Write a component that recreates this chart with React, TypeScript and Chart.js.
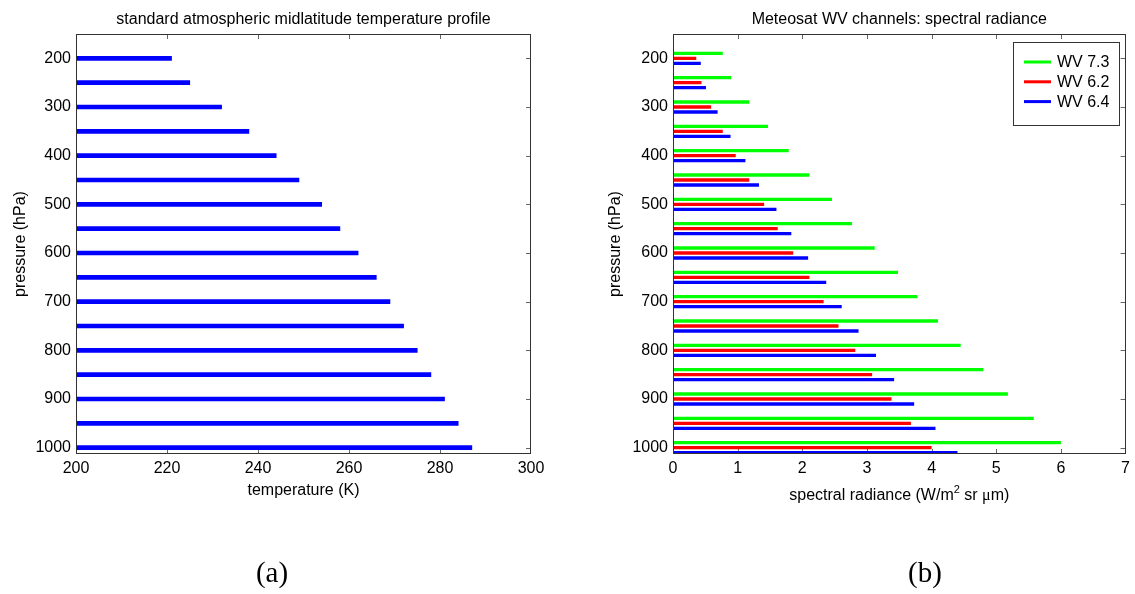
import React, { useEffect, useRef } from 'react';
import { Chart, registerables } from 'chart.js';

Chart.register(...registerables);

// ---------------- data ----------------
const pressureLevels = [200, 250, 300, 350, 400, 450, 500, 550, 600, 650, 700, 750, 800, 850, 900, 950, 1000];
const temperatureK = [221, 225, 232, 238, 244, 249, 254, 258, 262, 266, 269, 272, 275, 278, 281, 284, 287];
const radianceWV73 = [0.77, 0.9, 1.18, 1.47, 1.79, 2.11, 2.46, 2.77, 3.12, 3.48, 3.78, 4.1, 4.45, 4.8, 5.18, 5.58, 6.0];
const radianceWV62 = [0.36, 0.44, 0.59, 0.77, 0.97, 1.18, 1.41, 1.62, 1.86, 2.11, 2.33, 2.56, 2.82, 3.08, 3.38, 3.68, 4.0];
const radianceWV64 = [0.43, 0.51, 0.69, 0.89, 1.12, 1.33, 1.6, 1.83, 2.09, 2.37, 2.61, 2.87, 3.14, 3.42, 3.73, 4.06, 4.4];
const pressureTicks = [200, 300, 400, 500, 600, 700, 800, 900, 1000];
const temperatureTicks = [200, 220, 240, 260, 280, 300];
const radianceTicks = [0, 1, 2, 3, 4, 5, 6, 7];
const seriesLabels = ['WV 7.3', 'WV 6.2', 'WV 6.4'];
const seriesColors = ['#00ff00', '#ff0000', '#0000ff'];

const titleLeft = 'standard atmospheric midlatitude temperature profile';
const titleRight = 'Meteosat WV channels: spectral radiance';
const xLabelLeft = 'temperature (K)';
const yLabel = 'pressure (hPa)';

const SANS = '"Liberation Sans", Arial, Helvetica, sans-serif';
const SERIF = '"Liberation Serif", "DejaVu Serif", serif';
const TICK_FONT = 16;
const TICK_LEN = 5;

type TextFn = (ctx: CanvasRenderingContext2D, chart: any) => void;

function matlabAxes(drawText: TextFn) {
  return {
    id: 'matlabAxes',
    beforeDatasetsDraw(chart: any) {
      const { ctx, chartArea: a, scales } = chart;
      const x = scales.x;
      const y = scales.y;
      ctx.save();
      ctx.strokeStyle = '#666666';
      ctx.lineWidth = 1;
      ctx.beginPath();
      x.ticks.forEach((t: any) => {
        const px = Math.round(x.getPixelForValue(t.value)) + 0.5;
        if (px <= a.left + 1 || px >= a.right - 1) return;
        ctx.moveTo(px, a.bottom);
        ctx.lineTo(px, a.bottom - TICK_LEN);
        ctx.moveTo(px, a.top);
        ctx.lineTo(px, a.top + TICK_LEN);
      });
      y.ticks.forEach((t: any) => {
        const py = Math.round(y.getPixelForValue(t.value)) + 0.5;
        if (py <= a.top + 1 || py >= a.bottom - 1) return;
        ctx.moveTo(a.left, py);
        ctx.lineTo(a.left + TICK_LEN, py);
        ctx.moveTo(a.right, py);
        ctx.lineTo(a.right - TICK_LEN, py);
      });
      ctx.stroke();
      ctx.restore();
    },
    afterDatasetsDraw(chart: any) {
      const { ctx, chartArea: a } = chart;
      ctx.save();
      ctx.strokeStyle = '#333333';
      ctx.lineWidth = 1;
      ctx.strokeRect(Math.round(a.left) + 0.5, Math.round(a.top) + 0.5, Math.round(a.right - a.left) - 1, Math.round(a.bottom - a.top) - 1);
      ctx.restore();
    },
    afterDraw(chart: any) {
      const { ctx } = chart;
      ctx.save();
      drawText(ctx, chart);
      ctx.restore();
    },
  };
}

function axisScales(xMin: number, xMax: number, xTicks: number[], yAxisWidth: number, xAxisHeight: number) {
  const tickStyle = {
    font: { family: SANS, size: TICK_FONT },
    color: '#000000',
    padding: 5,
    autoSkip: false,
    maxRotation: 0,
    minRotation: 0,
    callback: (v: any) => String(v),
  };
  return {
    x: {
      type: 'linear',
      position: 'bottom',
      min: xMin,
      max: xMax,
      beginAtZero: false,
      afterBuildTicks: (s: any) => {
        s.ticks = xTicks.map((v) => ({ value: v }));
      },
      afterFit: (s: any) => {
        s.height = xAxisHeight;
      },
      grid: { display: false, drawTicks: false },
      border: { display: false },
      ticks: tickStyle,
    },
    y: {
      type: 'linear',
      position: 'left',
      reverse: true,
      offset: false,
      min: 150,
      max: 1013,
      afterBuildTicks: (s: any) => {
        s.ticks = pressureTicks.map((v) => ({ value: v }));
      },
      afterFit: (s: any) => {
        s.width = yAxisWidth;
      },
      grid: { display: false, drawTicks: false, offset: false },
      border: { display: false },
      ticks: tickStyle,
    },
  };
}

function drawTitleAndYLabel(ctx: CanvasRenderingContext2D, chart: any, title: string, yLabelX: number) {
  const a = chart.chartArea;
  const cx = (a.left + a.right) / 2;
  ctx.fillStyle = '#000000';
  ctx.font = `16px ${SANS}`;
  ctx.textAlign = 'center';
  ctx.textBaseline = 'alphabetic';
  ctx.fillText(title, cx, 24);

  ctx.save();
  ctx.translate(yLabelX, (a.top + a.bottom) / 2);
  ctx.rotate(-Math.PI / 2);
  ctx.font = `${TICK_FONT}px ${SANS}`;
  ctx.textAlign = 'center';
  ctx.textBaseline = 'middle';
  ctx.fillText(yLabel, 0, 0);
  ctx.restore();
}

function LeftChart() {
  const ref = useRef<HTMLCanvasElement | null>(null);
  useEffect(() => {
    if (!ref.current) return;
    const chart = new Chart(ref.current, {
      type: 'bar',
      data: {
        datasets: [
          {
            label: 'temperature',
            data: pressureLevels.map((p, i) => ({ x: temperatureK[i], y: p })),
            backgroundColor: '#0000ff',
            borderWidth: 0,
            barThickness: 4,
            base: temperatureTicks[0],
          } as any,
        ],
      },
      options: {
        indexAxis: 'y',
        responsive: false,
        animation: false,
        layout: { padding: { left: 0, right: 36, top: 34, bottom: 0 } },
        plugins: { legend: { display: false }, title: { display: false }, tooltip: { enabled: false } },
        scales: axisScales(200, 300, temperatureTicks, 76, 140) as any,
      },
      plugins: [
        matlabAxes((ctx, ch) => {
          drawTitleAndYLabel(ctx, ch, titleLeft, 21);
          const a = ch.chartArea;
          ctx.font = `${TICK_FONT}px ${SANS}`;
          ctx.textAlign = 'center';
          ctx.textBaseline = 'alphabetic';
          ctx.fillText(xLabelLeft, (a.left + a.right) / 2, 495);
          ctx.font = `29px ${SERIF}`;
          ctx.fillText('(a)', 272, 582);
        }),
      ],
    } as any);
    return () => chart.destroy();
  }, []);
  return <canvas ref={ref} width={567} height={594} style={{ position: 'absolute', left: 0, top: 0 }} />;
}

function RightChart() {
  const ref = useRef<HTMLCanvasElement | null>(null);
  useEffect(() => {
    if (!ref.current) return;
    const series = [radianceWV73, radianceWV62, radianceWV64];
    const chart = new Chart(ref.current, {
      type: 'bar',
      data: {
        datasets: series.map((vals, k) => ({
          label: seriesLabels[k],
          data: pressureLevels.map((p, i) => ({ x: vals[i], y: p })),
          backgroundColor: seriesColors[k],
          borderWidth: 0,
          categoryPercentage: 0.616,
          barPercentage: 0.66,
          base: radianceTicks[0],
        })) as any,
      },
      options: {
        indexAxis: 'y',
        responsive: false,
        animation: false,
        layout: { padding: { left: 0, right: 5, top: 34, bottom: 0 } },
        plugins: { legend: { display: false }, title: { display: false }, tooltip: { enabled: false } },
        scales: axisScales(0, 7, radianceTicks, 106, 140) as any,
      },
      plugins: [
        matlabAxes((ctx, ch) => {
          drawTitleAndYLabel(ctx, ch, titleRight, 48.5);
          const a = ch.chartArea;
          // x-axis label with superscript and Greek mu
          const parts: { t: string; font: string; dy: number }[] = [
            { t: 'spectral radiance (W/m', font: `${TICK_FONT}px ${SANS}`, dy: 0 },
            { t: '2', font: `11px ${SANS}`, dy: -7 },
            { t: ' sr ', font: `${TICK_FONT}px ${SANS}`, dy: 0 },
            { t: 'μ', font: `${TICK_FONT}px ${SERIF}`, dy: 0 },
            { t: 'm)', font: `${TICK_FONT}px ${SANS}`, dy: 0 },
          ];
          let total = 0;
          const widths = parts.map((p) => {
            ctx.font = p.font;
            const w = ctx.measureText(p.t).width;
            total += w;
            return w;
          });
          let xx = (a.left + a.right) / 2 - total / 2;
          const base = 500;
          ctx.textAlign = 'left';
          ctx.textBaseline = 'alphabetic';
          ctx.fillStyle = '#000000';
          parts.forEach((p, i) => {
            ctx.font = p.font;
            ctx.fillText(p.t, xx, base + p.dy);
            xx += widths[i];
          });

          // legend
          const bx = 446.5, by = 42.5, bw = 106, bh = 83;
          ctx.fillStyle = '#ffffff';
          ctx.fillRect(bx, by, bw, bh);
          ctx.strokeStyle = '#333333';
          ctx.lineWidth = 1;
          ctx.strokeRect(bx, by, bw, bh);
          ch.data.datasets.forEach((ds: any, k: number) => {
            const ly = 62 + k * 19.8;
            ctx.strokeStyle = ds.backgroundColor;
            ctx.lineWidth = 3;
            ctx.beginPath();
            ctx.moveTo(457, ly);
            ctx.lineTo(484, ly);
            ctx.stroke();
            ctx.fillStyle = '#000000';
            ctx.font = `${TICK_FONT}px ${SANS}`;
            ctx.textAlign = 'left';
            ctx.textBaseline = 'middle';
            ctx.fillText(ds.label, 490, ly + 0.5);
          });

          ctx.font = `29px ${SERIF}`;
          ctx.textAlign = 'center';
          ctx.textBaseline = 'alphabetic';
          ctx.fillStyle = '#000000';
          ctx.fillText('(b)', 925 - 567, 582);
        }),
      ],
    } as any);
    return () => chart.destroy();
  }, []);
  return <canvas ref={ref} width={568} height={594} style={{ position: 'absolute', left: 567, top: 0 }} />;
}

export default function App() {
  return (
    <div style={{ position: 'absolute', left: 0, top: 0, width: 1135, height: 594, background: '#ffffff', overflow: 'hidden' }}>
      <LeftChart />
      <RightChart />
    </div>
  );
}
